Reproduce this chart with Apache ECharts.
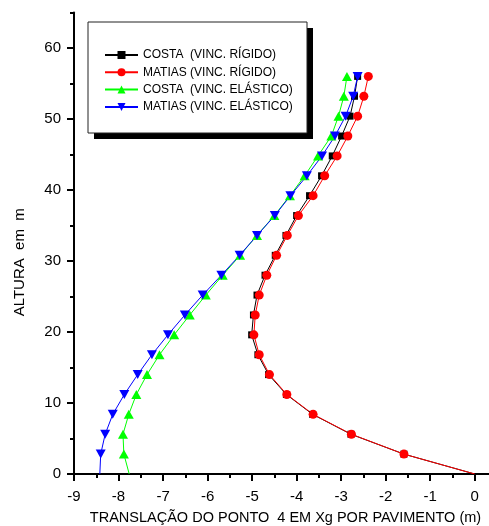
<!DOCTYPE html>
<html>
<head>
<meta charset="utf-8">
<script src="https://cdn.jsdelivr.net/npm/echarts@6/dist/echarts.min.js"></script>
<style>
  html, body { margin: 0; padding: 0; background: #fff; }
  #chart { width: 489px; height: 526px; }
</style>
</head>
<body>
<div id="chart"></div>
<script>
// Floor heights (m), 2.8 m per storey, with the base at 0
const alturas = [0, 2.8, 5.6, 8.4, 11.2, 14, 16.8, 19.6, 22.4, 25.2, 28, 30.8, 33.6, 36.4, 39.2, 42, 44.8, 47.6, 50.4, 53.2, 56];

// Translation of point 4 along Xg per floor (m)
const costaRigido = [0, -1.59, -2.78, -3.64, -4.23, -4.63, -4.87, -5.01, -4.97, -4.89, -4.71, -4.48, -4.24, -4.00, -3.71, -3.44, -3.20, -2.99, -2.80, -2.70, -2.63];
const matiasRigido = [0, -1.59, -2.77, -3.63, -4.22, -4.61, -4.84, -4.96, -4.93, -4.84, -4.67, -4.45, -4.21, -3.96, -3.63, -3.37, -3.09, -2.85, -2.63, -2.49, -2.39];
const costaElastico = [-7.76, -7.88, -7.90, -7.77, -7.60, -7.36, -7.08, -6.75, -6.40, -6.04, -5.66, -5.27, -4.89, -4.50, -4.15, -3.82, -3.52, -3.22, -3.06, -2.94, -2.87];
const matiasElastico = [-8.42, -8.40, -8.30, -8.13, -7.87, -7.57, -7.25, -6.89, -6.51, -6.11, -5.69, -5.28, -4.89, -4.49, -4.14, -3.77, -3.43, -3.14, -2.90, -2.73, -2.63];

const serieNomes = ['COSTA  (VINC. RÍGIDO)', 'MATIAS (VINC. RÍGIDO)', 'COSTA  (VINC. ELÁSTICO)', 'MATIAS (VINC. ELÁSTICO)'];

const FONT = 'Liberation Sans, Arial, sans-serif';

// pair x values with heights; the base point carries no marker
function pontos(xs) {
  return xs.map((x, i) => i === 0 ? { value: [x, alturas[i]], symbol: 'none' } : [x, alturas[i]]);
}

function serie(nome, xs, cor, symbol, size, rotate) {
  return {
    name: nome,
    type: 'line',
    xAxisIndex: 0,
    yAxisIndex: 0,
    data: pontos(xs),
    symbol: symbol,
    symbolSize: size,
    symbolRotate: rotate || 0,
    showAllSymbol: true,
    lineStyle: { color: cor, width: 1 },
    itemStyle: { color: cor, opacity: 1 },
    emphasis: { disabled: true },
    animation: false
  };
}

const chart = echarts.init(document.getElementById('chart'), null, { renderer: 'canvas' });
chart.setOption({
  backgroundColor: '#fff',
  animation: false,
  grid: { left: 74, top: 12.5, width: 423, height: 461.5, containLabel: false, outerBoundsMode: 'none' },
  xAxis: [
    {
      type: 'value', position: 'bottom', min: -9, max: 0.5, interval: 1,
      axisLine: { show: true, onZero: false, lineStyle: { color: '#000', width: 2 } },
      axisTick: { show: true, length: 7, lineStyle: { color: '#000', width: 2 } },
      axisLabel: { color: '#000', fontSize: 15, fontFamily: FONT, margin: 15, showMaxLabel: false },
      splitLine: { show: false },
      name: 'TRANSLAÇÃO DO PONTO  4 EM Xg POR PAVIMENTO (m)',
      nameLocation: 'middle', nameGap: 36,
      nameTextStyle: { color: '#000', fontSize: 14.5, fontFamily: FONT }
    },
    {
      type: 'value', position: 'bottom', min: -9, max: 0.5, interval: 0.5,
      axisLine: { show: false, onZero: false },
      axisTick: { show: true, length: 4, lineStyle: { color: '#000', width: 2 } },
      axisLabel: { show: false },
      splitLine: { show: false }
    }
  ],
  yAxis: [
    {
      type: 'value', position: 'left', min: 0, max: 65, interval: 10,
      axisLine: { show: true, onZero: false, lineStyle: { color: '#000', width: 2 } },
      axisTick: { show: true, length: 7, lineStyle: { color: '#000', width: 2 } },
      axisLabel: { color: '#000', fontSize: 15, fontFamily: FONT, margin: 13, showMaxLabel: false },
      splitLine: { show: false },
      name: 'ALTURA  em  m',
      nameLocation: 'middle', nameGap: 47, nameRotate: 90,
      nameTextStyle: { color: '#000', fontSize: 15, fontFamily: FONT, padding: [0, 38, 0, 0] }
    },
    {
      type: 'value', position: 'left', min: 0, max: 65, interval: 5,
      axisLine: { show: false, onZero: false },
      axisTick: { show: true, length: 4, lineStyle: { color: '#000', width: 2 } },
      axisLabel: { show: false },
      splitLine: { show: false }
    }
  ],
  legend: {
    orient: 'vertical',
    left: 104, top: 49, padding: 0,
    itemWidth: 33, itemHeight: 10, itemGap: 5.3,
    z: 10,
    selectedMode: false,
    textStyle: { color: '#000', fontSize: 12, fontFamily: FONT },
    data: serieNomes
  },
  graphic: [
    { type: 'rect', z: 5, shape: { x: 94, y: 28, width: 219, height: 111 }, style: { fill: '#000' } },
    { type: 'rect', z: 6, shape: { x: 88, y: 22, width: 219, height: 111 }, style: { fill: '#fff', stroke: '#222', lineWidth: 1 } }
  ],
  series: [
    serie(serieNomes[0], costaRigido, '#000000', 'rect', 7),
    serie(serieNomes[1], matiasRigido, '#ff0000', 'circle', 9),
    serie(serieNomes[2], costaElastico, '#00ff00', 'triangle', [10, 9]),
    serie(serieNomes[3], matiasElastico, '#0000ff', 'triangle', [10, 9], 180)
  ]
});
</script>
</body>
</html>
